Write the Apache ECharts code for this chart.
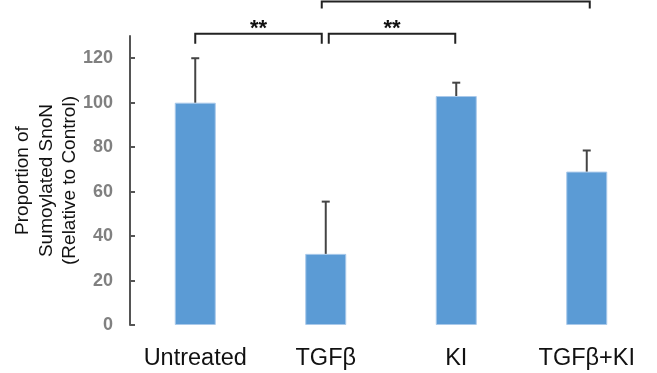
<!DOCTYPE html>
<html>
<head>
<meta charset="utf-8">
<script src="https://cdn.jsdelivr.net/npm/echarts@6/dist/echarts.min.js"></script>
<style>
  html, body { margin: 0; padding: 0; background: #fff; }
  #chart { width: 657px; height: 373px; }
</style>
</head>
<body>
<div id="chart"></div>
<script>
// data
const categories = ['Untreated', 'TGFβ', 'KI', 'TGFβ+KI'];
const values = [100, 32, 103, 69];
const errors = [20, 23.5, 6, 9.5];
const yTicks = [0, 20, 40, 60, 80, 100, 120];

// significance brackets: from category, to category, height (axis units), label
const bracketFrom = [0, 1, 1];
const bracketTo = [1, 2, 3];
const bracketLevel = [131, 131, 145.5];
const bracketLabel = ['**', '**', ''];

const chart = echarts.init(document.getElementById('chart'));

// small horizontal nudges so neighbouring brackets don't touch
const nudges = [[0, -4], [3, -1], [-4, 3]];

chart.setOption({
  backgroundColor: '#fff',
  animation: false,
  grid: { left: 130, right: 5, top: 36, bottom: 48, outerBoundsMode: 'none' },
  xAxis: {
    type: 'category',
    data: categories,
    axisLine: { show: false },
    axisTick: { show: false },
    axisLabel: {
      interval: 0,
      hideOverlap: false,
      color: '#111',
      fontSize: 23.5,
      fontFamily: 'Liberation Sans, Arial, sans-serif',
      margin: 22,
    },
  },
  yAxis: {
    type: 'value',
    min: 0,
    max: 130,
    interval: 10,
    name: 'Proportion of\nSumoylated SnoN\n(Relative to Control)',
    nameLocation: 'middle',
    nameRotate: 90,
    nameGap: 48,
    nameMoveOverlap: false,
    nameTextStyle: {
      color: '#111',
      fontSize: 19,
      lineHeight: 23.5,
      fontFamily: 'Liberation Sans, Arial, sans-serif',
    },
    axisLine: { show: true, lineStyle: { color: '#555', width: 2 } },
    axisTick: {
      show: true,
      inside: true,
      length: 5,
      customValues: yTicks,
      lineStyle: { color: '#555', width: 2 },
    },
    axisLabel: {
      customValues: yTicks,
      color: '#808080',
      fontWeight: 'bold',
      fontSize: 18,
      margin: 17,
      fontFamily: 'Liberation Sans, Arial, sans-serif',
    },
    splitLine: { show: false },
  },
  series: [
    {
      name: 'value',
      type: 'bar',
      barWidth: 41,
      data: values,
      itemStyle: { color: '#5b9bd5', borderColor: '#a9c9ea', borderWidth: 1 },
    },
    {
      name: 'error',
      type: 'custom',
      data: values.map((v, i) => [i, v, v + errors[i]]),
      z: 3,
      renderItem: (params, api) => {
        const base = api.coord([api.value(0), api.value(1)]);
        const top = api.coord([api.value(0), api.value(2)]);
        const style = { stroke: '#444', lineWidth: 2 };
        return {
          type: 'group',
          children: [
            { type: 'line', shape: { x1: base[0], y1: base[1], x2: top[0], y2: top[1] }, style },
            { type: 'line', shape: { x1: top[0] - 4, y1: top[1], x2: top[0] + 4, y2: top[1] }, style },
          ],
        };
      },
    },
    {
      name: 'brackets',
      type: 'custom',
      clip: false,
      data: bracketFrom.map((f, i) => [f, bracketTo[i], bracketLevel[i], i]),
      renderItem: (params, api) => {
        const i = api.value(3);
        const a = api.coord([api.value(0), api.value(2)]);
        const b = api.coord([api.value(1), api.value(2)]);
        const x1 = a[0] + nudges[i][0];
        const x2 = b[0] + nudges[i][1];
        const y = a[1];
        const leg = i === 2 ? 7 : 10;
        const style = { stroke: '#222', lineWidth: 2, fill: 'none' };
        return {
          type: 'group',
          children: [
            {
              type: 'polyline',
              shape: { points: [[x1, y + leg], [x1, y], [x2, y], [x2, y + leg]] },
              style,
            },
            {
              type: 'text',
              style: {
                text: bracketLabel[i],
                x: (x1 + x2) / 2,
                y: y + 6,
                align: 'center',
                verticalAlign: 'bottom',
                fill: '#111',
                font: 'bold 22px Liberation Sans, Arial, sans-serif',
              },
            },
          ],
        };
      },
    },
  ],
});
</script>
</body>
</html>
